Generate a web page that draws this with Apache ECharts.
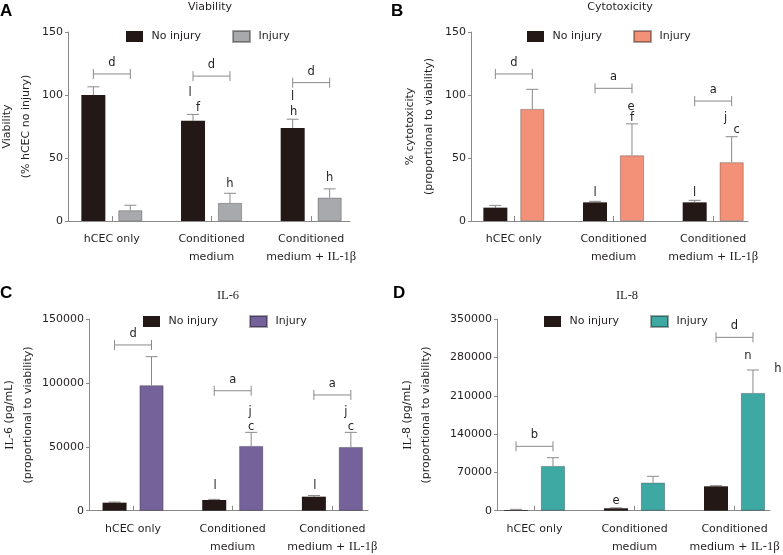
<!DOCTYPE html>
<html>
<head>
<meta charset="utf-8">
<script src="https://cdn.jsdelivr.net/npm/echarts@6/dist/echarts.min.js"></script>
<style>
  html, body { margin: 0; padding: 0; background: #fff; }
  #chart { width: 783px; height: 555px; }
</style>
</head>
<body>
<div id="chart"></div>
<script>
  // categories, shared by the four panels
  const CATEGORIES = ['hCEC only', 'Conditioned\nmedium', 'Conditioned\nmedium + IL-1β'];

  // A - viability (% hCEC no injury)
  const VIAB_NO = [100, 79.6, 73.8];
  const VIAB_NO_ERR = [6.5, 5, 7];
  const VIAB_INJ = [8.5, 14.3, 18.5];
  const VIAB_INJ_ERR = [4, 7.7, 7];

  // B - % cytotoxicity
  const CYTO_NO = [10.6, 14.8, 14.8];
  const CYTO_NO_ERR = [1.8, 0.8, 1.6];
  const CYTO_INJ = [88.9, 52.1, 46.6];
  const CYTO_INJ_ERR = [15.6, 25, 20.3];

  // C - IL-6 pg/mL
  const IL6_NO = [6300, 8400, 11000];
  const IL6_NO_ERR = [500, 500, 900];
  const IL6_INJ = [98300, 50700, 49900];
  const IL6_INJ_ERR = [22400, 10700, 11500];

  // D - IL-8 pg/mL
  const IL8_NO = [1200, 4400, 44600];
  const IL8_NO_ERR = [1300, 800, 1200];
  const IL8_INJ = [81700, 51200, 215200];
  const IL8_INJ_ERR = [15200, 11700, 42100];

  // significance brackets: [category, y value, letter]
  const BRACKETS_A = [[0, 116.7, 'd'], [1, 115, 'd'], [2, 109.8, 'd']];
  const BRACKETS_B = [[0, 116.7, 'd'], [1, 105.3, 'a'], [2, 95.2, 'a']];
  const BRACKETS_C = [[0, 129900, 'd'], [1, 94000, 'a'], [2, 90700, 'a']];
  const BRACKETS_D = [[0, 117700, 'b'], [2, 317000, 'd']];

  // letters over bars: [category, series (0 no injury / 1 injury), y value, letter, nudge]
  const LETTERS_A = [[1, 0, 101.6, 'l', -3], [1, 0, 89.7, 'f', 5], [2, 0, 98.4, 'l', 0],
                     [2, 0, 86.5, 'h', 1], [1, 1, 29.4, 'h', 0], [2, 1, 34.1, 'h', 0]];
  const LETTERS_B = [[1, 0, 22.2, 'l', 0], [1, 1, 90.5, 'e', -1], [1, 1, 81.7, 'f', 0],
                     [2, 0, 22.2, 'l', 0], [2, 1, 81.7, 'j', -6], [2, 1, 72.2, 'c', 5]];
  const LETTERS_C = [[1, 0, 19600, 'l', 1], [1, 1, 77100, 'j', -1], [1, 1, 65800, 'c', 0],
                     [2, 0, 19600, 'l', 1], [2, 1, 77100, 'j', -5], [2, 1, 65800, 'c', 0]];
  const LETTERS_D = [[1, 0, 17700, 'e', 0], [2, 1, 283400, 'n', -5], [2, 1, 258600, 'h', 25]];

  const FONT = 'DejaVu Sans';
  const SERIF = 'Liberation Serif';
  const TEXT = '#231f20';
  const LINE_GRAY = '#8a8a8a';
  const DARK = '#231815';
  const BAR_W = 24;
  const BAR_GAP = '54%';

  const panels = [
    {key: 'A', title: 'Viability', serifTitle: false, no: VIAB_NO, noErr: VIAB_NO_ERR, inj: VIAB_INJ, injErr: VIAB_INJ_ERR,
     color: '#a7a9ac', max: 150, interval: 50, yName: 'Viability\n(% hCEC no injury)',
     brackets: BRACKETS_A, letters: LETTERS_A,
     frame: {left: 68, top: 32, width: 282, height: 189}, barLeft: 62, barWidth: 299, nameGap: 32,
     titleX: 210, titleY: 2, tag: [0, 3], legend: [126, 30]},
    {key: 'B', title: 'Cytotoxicity', serifTitle: false, no: CYTO_NO, noErr: CYTO_NO_ERR, inj: CYTO_INJ, injErr: CYTO_INJ_ERR,
     color: '#f29178', max: 150, interval: 50, yName: '% cytotoxicity\n(proportional to viability)',
     brackets: BRACKETS_B, letters: LETTERS_B,
     frame: {left: 471, top: 32, width: 277, height: 189}, barLeft: 464, barWidth: 299, nameGap: 32,
     titleX: 620, titleY: 2, tag: [391, 3], legend: [527, 30]},
    {key: 'C', title: 'IL-6', serifTitle: true, no: IL6_NO, noErr: IL6_NO_ERR, inj: IL6_INJ, injErr: IL6_INJ_ERR,
     color: '#75629b', max: 150000, interval: 50000, yName: '{s|IL}-6 (pg/mL)\n(proportional to viability)',
     brackets: BRACKETS_C, letters: LETTERS_C,
     frame: {left: 89, top: 319.3, width: 279, height: 191.4}, barLeft: 83.2, barWidth: 299, nameGap: 51,
     titleX: 228, titleY: 289, tag: [0, 285], legend: [143, 315]},
    {key: 'D', title: 'IL-8', serifTitle: true, no: IL8_NO, noErr: IL8_NO_ERR, inj: IL8_INJ, injErr: IL8_INJ_ERR,
     color: '#3ea8a3', max: 350000, interval: 70000, yName: '{s|IL}-8 (pg/mL)\n(proportional to viability)',
     brackets: BRACKETS_D, letters: LETTERS_D,
     frame: {left: 497, top: 319.3, width: 273, height: 191.4}, barLeft: 484.5, barWidth: 300, nameGap: 61,
     titleX: 627, titleY: 289, tag: [393, 285], legend: [544, 315]}
  ];

  function barLay(api) {
    return api.barLayout({count: 2, barWidth: BAR_W, barGap: BAR_GAP});
  }

  function renderError(params, api) {
    const cat = api.value(0), s = api.value(1), v = api.value(2), e = api.value(3);
    const lay = barLay(api);
    const p0 = api.coord([cat, v]);
    const p1 = api.coord([cat, v + e]);
    const x = p0[0] + lay[s].offsetCenter;
    const st = {stroke: LINE_GRAY, lineWidth: 1};
    return {
      type: 'group',
      children: [
        {type: 'line', shape: {x1: x, y1: p0[1], x2: x, y2: p1[1]}, style: st},
        {type: 'line', shape: {x1: x - 6, y1: p1[1], x2: x + 6, y2: p1[1]}, style: st}
      ]
    };
  }

  function makeBracketRender(list) {
    return function (params, api) {
      const cat = api.value(0), y = api.value(1);
      const lay = barLay(api);
      const p = api.coord([cat, y]);
      const x1 = p[0] + lay[0].offsetCenter;
      const x2 = p[0] + lay[1].offsetCenter;
      const st = {stroke: LINE_GRAY, lineWidth: 1};
      return {
        type: 'group',
        children: [
          {type: 'line', shape: {x1: x1, y1: p[1], x2: x2, y2: p[1]}, style: st},
          {type: 'line', shape: {x1: x1, y1: p[1] - 5, x2: x1, y2: p[1] + 5}, style: st},
          {type: 'line', shape: {x1: x2, y1: p[1] - 5, x2: x2, y2: p[1] + 5}, style: st},
          {type: 'text', x: (x1 + x2) / 2, y: p[1] - 11,
           style: {text: list[params.dataIndex][2], fill: TEXT, fontSize: 11.5, fontFamily: FONT,
                   align: 'center', verticalAlign: 'middle'}}
        ]
      };
    };
  }

  function makeLetterRender(list) {
    return function (params, api) {
      const cat = api.value(0), s = api.value(1), y = api.value(2), dx = api.value(3);
      const lay = barLay(api);
      const p = api.coord([cat, y]);
      return {
        type: 'text', x: p[0] + lay[s].offsetCenter + dx, y: p[1],
        style: {text: list[params.dataIndex][3], fill: TEXT, fontSize: 11.5, fontFamily: FONT,
                align: 'center', verticalAlign: 'middle'}
      };
    };
  }

  const option = {
    backgroundColor: '#fff',
    animation: false,
    title: [], legend: [], grid: [], xAxis: [], yAxis: [], series: []
  };

  panels.forEach(function (p, i) {
    const fi = 2 * i, bi = 2 * i + 1;
    const baseText = {fontFamily: FONT, fontSize: 11, color: TEXT};

    option.title.push({
      text: p.title, left: p.titleX, top: p.titleY, textAlign: 'center', padding: 0,
      textStyle: {fontFamily: p.serifTitle ? SERIF : FONT, fontSize: p.serifTitle ? 12.5 : 11,
                  fontWeight: 'normal', color: TEXT}
    });
    option.title.push({
      text: p.key, left: p.tag[0], top: p.tag[1], padding: 0,
      textStyle: {fontFamily: 'Liberation Sans', fontSize: 17, fontWeight: 'bold', color: '#000'}
    });

    option.legend.push({
      left: p.legend[0], top: p.legend[1], padding: 0,
      itemWidth: 17, itemHeight: 11, itemGap: 31, icon: 'rect', selectedMode: false,
      data: [p.key + '|No injury', p.key + '|Injury'],
      formatter: function (n) { return ' ' + n.split('|')[1]; },
      textStyle: baseText
    });

    // frame grid: carries the visible axes lines and y labels
    option.grid.push({left: p.frame.left, top: p.frame.top, width: p.frame.width, height: p.frame.height,
                      outerBoundsMode: 'none', containLabel: false});
    // bar grid: categories evenly spaced over the bands
    option.grid.push({left: p.barLeft, top: p.frame.top, width: p.barWidth, height: p.frame.height,
                      outerBoundsMode: 'none', containLabel: false});

    option.xAxis.push({
      gridIndex: fi, type: 'value', min: 0, max: 1,
      axisLine: {show: true, lineStyle: {color: LINE_GRAY, width: 1}},
      axisTick: {show: false}, axisLabel: {show: false}, splitLine: {show: false}
    });
    option.xAxis.push({
      gridIndex: bi, type: 'category', data: CATEGORIES,
      axisLine: {show: false},
      axisTick: {show: true, inside: true, alignWithLabel: true, length: 5,
                 lineStyle: {color: LINE_GRAY, width: 1}},
      axisLabel: {
        margin: 9, lineHeight: 18, fontFamily: FONT, fontSize: 11, color: TEXT, interval: 0,
        formatter: function (v) { return v.replace('IL-1β', '{s|IL-1β}'); },
        rich: {s: {fontFamily: SERIF, fontSize: 12.5, lineHeight: 18, color: TEXT}}
      },
      splitLine: {show: false}
    });

    option.yAxis.push({
      gridIndex: fi, type: 'value', min: 0, max: p.max, interval: p.interval,
      name: p.yName, nameLocation: 'middle', nameRotate: 90, nameGap: p.nameGap,
      nameTextStyle: {fontFamily: FONT, fontSize: 11, color: TEXT, lineHeight: 19,
                      rich: {s: {fontFamily: SERIF, fontSize: 12.5, lineHeight: 19, color: TEXT}}},
      axisLine: {show: true, lineStyle: {color: LINE_GRAY, width: 1}},
      axisTick: {show: true, inside: false, length: 3, lineStyle: {color: LINE_GRAY}},
      axisLabel: {margin: 5, fontFamily: FONT, fontSize: 11, color: TEXT,
                  formatter: function (v) { return String(v); }},
      splitLine: {show: false}
    });
    option.yAxis.push({
      gridIndex: bi, type: 'value', min: 0, max: p.max, interval: p.interval, show: false,
      splitLine: {show: false}
    });

    option.series.push({
      name: p.key + '|No injury', type: 'bar', xAxisIndex: bi, yAxisIndex: bi,
      barWidth: BAR_W, barGap: BAR_GAP, data: p.no,
      itemStyle: {color: DARK}
    });
    option.series.push({
      name: p.key + '|Injury', type: 'bar', xAxisIndex: bi, yAxisIndex: bi,
      barWidth: BAR_W, barGap: BAR_GAP, data: p.inj,
      itemStyle: {color: p.color, borderColor: 'rgba(0,0,0,0.35)', borderWidth: 0.8}
    });

    const errData = [];
    p.no.forEach(function (v, c) { errData.push([c, 0, v, p.noErr[c]]); });
    p.inj.forEach(function (v, c) { errData.push([c, 1, v, p.injErr[c]]); });
    option.series.push({
      type: 'custom', xAxisIndex: bi, yAxisIndex: bi, renderItem: renderError,
      encode: {x: 0, y: 2}, data: errData, silent: true, z: 1
    });
    option.series.push({
      type: 'custom', xAxisIndex: bi, yAxisIndex: bi, renderItem: makeBracketRender(p.brackets),
      encode: {x: 0, y: 1}, data: p.brackets.map(function (b) { return [b[0], b[1]]; }), silent: true, z: 3
    });
    option.series.push({
      type: 'custom', xAxisIndex: bi, yAxisIndex: bi, renderItem: makeLetterRender(p.letters),
      encode: {x: 0, y: 2}, data: p.letters.map(function (l) { return [l[0], l[1], l[2], l[4]]; }),
      silent: true, z: 3
    });
  });

  const chart = echarts.init(document.getElementById('chart'), null, {renderer: 'canvas'});
  chart.setOption(option);
</script>
</body>
</html>
